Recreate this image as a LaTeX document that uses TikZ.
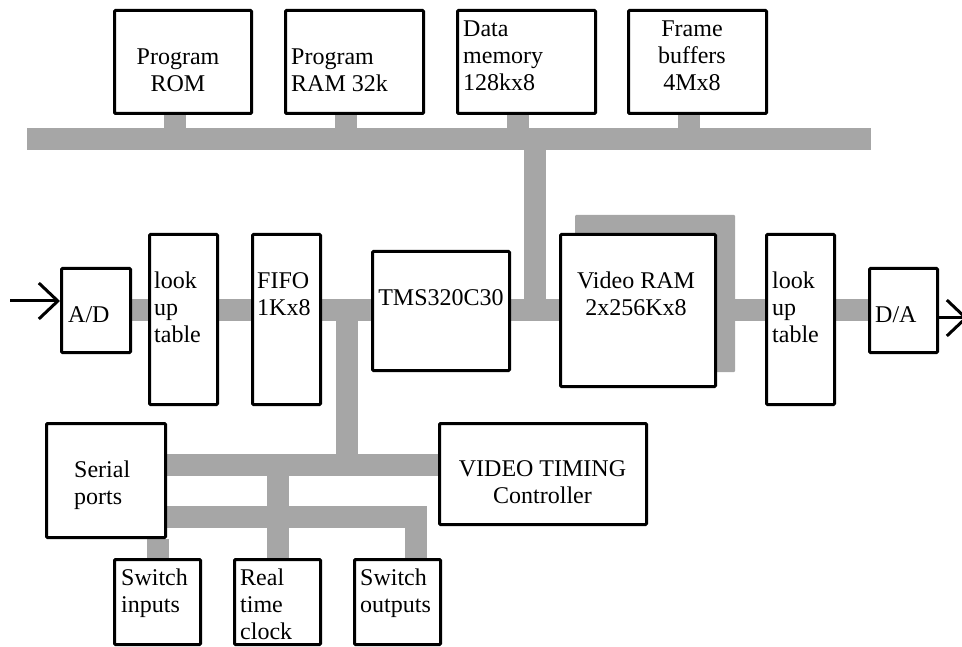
\documentclass[tikz,border=0pt]{standalone}
\usepackage{fontspec}
\setmainfont{Liberation Serif}
\usetikzlibrary{arrows.meta,calc,backgrounds}
\definecolor{busgray}{HTML}{A6A6A6}

\begin{document}
\begin{tikzpicture}[x=1pt, y=-1pt,
  blk/.style={draw, line width=3pt, fill=white, inner sep=0pt, rounded corners=1pt},
  txt/.style={inner sep=0pt, font=\fontsize{24}{27}\selectfont, align=left, anchor=north west},
  ctxt/.style={txt, align=center, anchor=north},
  bus/.style={draw=busgray, line width=22pt},
  sig/.style={line width=3pt, -{Straight Barb[length=19pt, width=36pt]}},
]
\useasboundingbox (0,0) rectangle (962,647);

% memories on the top bus
\node[blk, minimum width=137pt, minimum height=103pt] (rom) at (183,62) {};
\node[blk, minimum width=138pt, minimum height=103pt] (ram) at (354.5,62) {};
\node[blk, minimum width=138pt, minimum height=103pt] (dmem) at (526.5,62) {};
\node[blk, minimum width=138pt, minimum height=103pt] (fbuf) at (697.5,62) {};

% video path
\node[blk, minimum width=69pt, minimum height=84pt] (ad) at (96,310.5) {};
\node[blk, minimum width=68pt, minimum height=170pt] (luta) at (183.5,319.5) {};
\node[blk, minimum width=68pt, minimum height=170pt] (fifo) at (286.5,319.5) {};
\node[blk, minimum width=137pt, minimum height=119pt] (tms) at (441,311) {};
\node[fill=busgray, inner sep=0pt, rounded corners=1pt, minimum width=160pt, minimum height=157pt] (vramback) at (655,293.5) {};
\node[blk, minimum width=155pt, minimum height=152pt] (vram) at (638,310.5) {};
\node[blk, minimum width=68pt, minimum height=170pt] (lutb) at (800.5,319.5) {};
\node[blk, minimum width=68pt, minimum height=84pt] (da) at (903.5,310.5) {};

% peripherals
\node[blk, minimum width=119pt, minimum height=114pt] (serial) at (106,480.5) {};
\node[blk, minimum width=207pt, minimum height=101pt] (vtc) at (543,474) {};
\node[blk, minimum width=86pt, minimum height=85pt] (swin) at (157.5,602) {};
\node[blk, minimum width=86pt, minimum height=85pt] (rtc) at (277.5,602) {};
\node[blk, minimum width=86pt, minimum height=85pt] (swout) at (397.5,602) {};

% labels
\node[ctxt] (romtxt) at (178,49) {Program\\ROM};
\node[txt] (ramtxt) at (291,49) {Program\\RAM 32k};
\node[txt] (dmemtxt) at (463,21) {Data\\memory\\128kx8};
\node[ctxt] (fbuftxt) at (692,21) {Frame\\buffers\\4Mx8};
\node[txt] (adtxt) at (68,306) {A/D};
\node[txt] (lutatxt) at (154,272) {look\\up\\table};
\node[txt] (fifotxt) at (257,272) {FIFO\\1Kx8};
\node[ctxt] (tmstxt) at (441,289) {TMS320C30};
\node[ctxt] (vramtxt) at (636,272) {Video RAM\\2x256Kx8};
\node[txt] (lutbtxt) at (772,272) {look\\up\\table};
\node[txt] (datxt) at (875,306) {D/A};
\node[txt] (serialtxt) at (74,461) {Serial\\ports};
\node[ctxt] (vtctxt) at (542.5,460) {VIDEO TIMING\\Controller};
\node[txt] (swintxt) at (121,569) {Switch\\inputs};
\node[txt] (rtctxt) at (240,569) {Real\\time\\clock};
\node[txt] (swouttxt) at (360,569) {Switch\\outputs};

% buses
\coordinate (topL) at (27,139);
\coordinate (topR) at (871,139);
\coordinate (tapT) at (535,139);
\coordinate (mbus) at (0,310.5);
\coordinate (tapD) at (346.5,310.5);
\coordinate (busA) at (0,465);
\coordinate (busB) at (0,517);
\begin{scope}[on background layer]
\draw[bus] (topL) -- (topR);
\foreach \m in {rom,ram,dmem,fbuf}
  \draw[bus] ([xshift=-8.5pt]\m.south) -- ([xshift=-8.5pt]\m.south |- topL);
\draw[bus] (tapT) -- (tapT |- mbus);
\foreach \a/\b in {ad/luta,luta/fifo,fifo/tms,tms/vram,vramback/lutb,lutb/da}
  \draw[bus] (\a.east |- mbus) -- (\b.west |- mbus);
\draw[bus] (tapD) -- (tapD |- busA);
\draw[bus] (serial.east |- busA) -- (vtc.west |- busA);
\draw[bus] (serial.east |- busB) -| ([xshift=18pt]swout.north);
\draw[bus] (rtc.north |- busA) -- (rtc.north);
\draw[bus] (swin.north |- serial.south) -- (swin.north);
\end{scope}

% analog in and out
\coordinate (in) at (10,301);
\coordinate (out) at (968,318);
\draw[sig] (in) -- (ad.west |- in);
\draw[sig] (da.east |- out) -- (out);
\end{tikzpicture}
\end{document}
